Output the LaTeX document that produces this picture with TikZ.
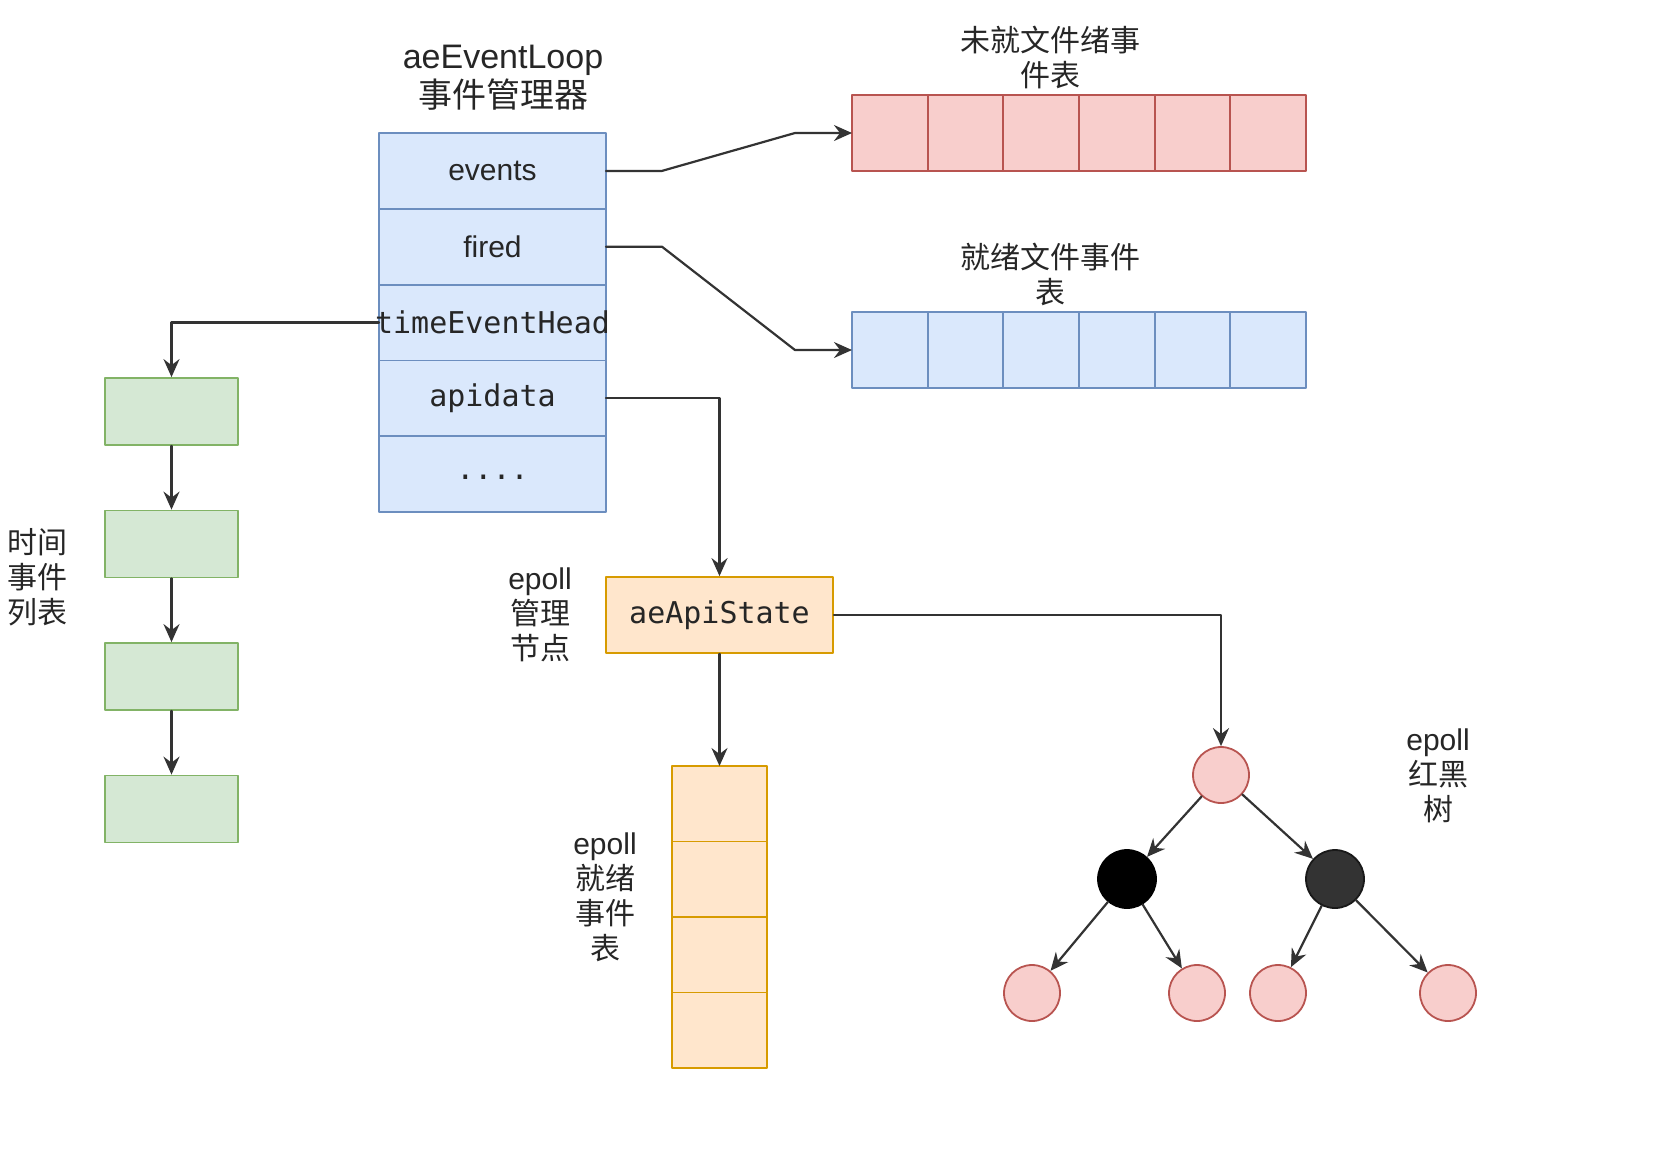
\documentclass[tikz,border=0pt]{standalone}
\usepackage{fontspec}
\setmainfont{Liberation Sans}
\setmonofont{DejaVu Sans Mono}
\newfontfamily\cjk{Noto Sans CJK SC}
\usetikzlibrary{arrows.meta, calc, positioning}
\usepackage{xcolor}
\definecolor{txtGray}{HTML}{262626}
\definecolor{lineGray}{HTML}{333333}
\definecolor{blueFill}{HTML}{DAE8FC}
\definecolor{blueLine}{HTML}{6C8EBF}
\definecolor{redFill}{HTML}{F8CECC}
\definecolor{redLine}{HTML}{B85450}
\definecolor{greenFill}{HTML}{D5E8D4}
\definecolor{greenLine}{HTML}{82B366}
\definecolor{orangeFill}{HTML}{FFE6CC}
\definecolor{orangeLine}{HTML}{D79B00}

\begin{document}
\begin{tikzpicture}[line cap=round,line join=round,>={Stealth[length=9pt,width=8pt,inset=3pt]},x=0.5pt,y=-0.5pt,
  every node/.style={text=txtGray, font=\fontsize{15}{17.5}\selectfont},
  field/.style={draw=blueLine, fill=blueFill, line width=0.9pt, minimum width=113.5pt, minimum height=37.9pt, inner sep=0pt, outer sep=0pt},
  pendcell/.style={draw=redLine, fill=redFill, line width=0.9pt, minimum width=37.83pt, minimum height=38pt, inner sep=0pt, outer sep=0pt},
  firedcell/.style={pendcell, draw=blueLine, fill=blueFill},
  tnode/.style={draw=greenLine, fill=greenFill, line width=0.9pt, minimum width=66.5pt, minimum height=33.5pt, inner sep=0pt},
  statebox/.style={draw=orangeLine, fill=orangeFill, line width=0.9pt, minimum width=113.5pt, minimum height=38pt, inner sep=0pt, font=\fontsize{15}{17.5}\ttfamily},
  rdcell/.style={draw=orangeLine, fill=orangeFill, line width=0.9pt, minimum width=47.5pt, minimum height=37.75pt, inner sep=0pt, outer sep=0pt},
  rbred/.style={circle, draw=redLine, fill=redFill, line width=0.9pt, minimum size=28pt, inner sep=0pt},
  rbblack/.style={circle, draw=black, fill=black, line width=0.9pt, minimum size=29pt, inner sep=0pt},
  rbdark/.style={circle, draw=black!90, fill=lineGray, line width=0.9pt, minimum size=29pt, inner sep=0pt},
  link/.style={->, draw=lineGray, line width=1.1pt}]
\useasboundingbox (0,0) rectangle (1654,1164);

% Event loop struct
\node[align=center, font=\fontsize{17}{19.5}\selectfont] (looptitle) at (503,78) {aeEventLoop\\\cjk 事件管理器};
\node[field] (events) at (492.5,170.9) {events};
\node[field, below=0pt of events] (fired) {fired};
\node[field, below=0pt of fired, font=\fontsize{15}{17.5}\ttfamily] (teh) {\makebox[0pt]{timeEventHead}};
\node[field, below=0pt of teh, font=\fontsize{15}{17.5}\ttfamily] (api) {apidata};
\node[field, below=0pt of api, font=\fontsize{15}{17.5}\ttfamily] (more) {\raisebox{-5pt}{....}};

% File event tables
\node[align=center] (pendtitle) at (1050,57) {\cjk 未就文件绪事\\\cjk 件表};
\node[align=center] (firedtitle) at (1050,274.5) {\cjk 就绪文件事件\\\cjk 表};
\foreach \i in {0,...,5}
{
  \node[pendcell] (ev\i) at (889.8+75.67*\i,133) {};
  \node[firedcell] (fr\i) at (889.8+75.67*\i,350) {};
}

% Time event list
\node[align=center] (timetitle) at (38,577) {\cjk 时间\\\cjk 事件\\\cjk 列表};
\foreach \i/\y in {1/411.5,2/544,3/676.5,4/809}
\node[tnode] (tl\i) at (171.5,\y) {};
\foreach \i/\j in {1/2,2/3,3/4}
\draw[link] (tl\i) -- (tl\j);

% epoll state and ready list
\node[statebox] (state) at (719.5,615) {aeApiState};
\node[align=center] (statetitle) at (540,615) {epoll\\\cjk 管理\\\cjk 节点};
\foreach \i in {0,...,3}
\node[rdcell] (rd\i) at (719.5,803.75+75.5*\i) {};
\node[align=center] (rdtitle) at (605,897) {epoll\\\cjk 就绪\\\cjk 事件\\\cjk 表};

% Red-black tree
\node[rbred] (root) at (1221,775) {};
\node[rbblack] (lb) at (1127,879) {};
\node[rbdark] (rb) at (1335,879) {};
\node[rbred] (l1) at (1032,993) {};
\node[rbred] (l2) at (1197,993) {};
\node[rbred] (l3) at (1278,993) {};
\node[rbred] (l4) at (1448,993) {};
\node[align=center] (treetitle) at (1438,776) {epoll\\\cjk 红黑\\\cjk 树};
\foreach \a/\b in {root/lb,root/rb,lb/l1,lb/l2,rb/l3,rb/l4}
\draw[link] (\a) -- (\b);

% Connectors
\draw[link] (events.east) -- ++(56,0) -- ($(ev0.west)+(-57,0)$) -- (ev0.west);
\draw[link] (fired.east) -- ++(56,0) -- ($(fr0.west)+(-57,0)$) -- (fr0.west);
\draw[link] (teh.west) -| (tl1.north);
\draw[link] (api.east) -| (state.north);
\draw[link] (state.south) -- (rd0.north);
\draw[link] (state.east) -| (root.north);
\end{tikzpicture}
\end{document}
